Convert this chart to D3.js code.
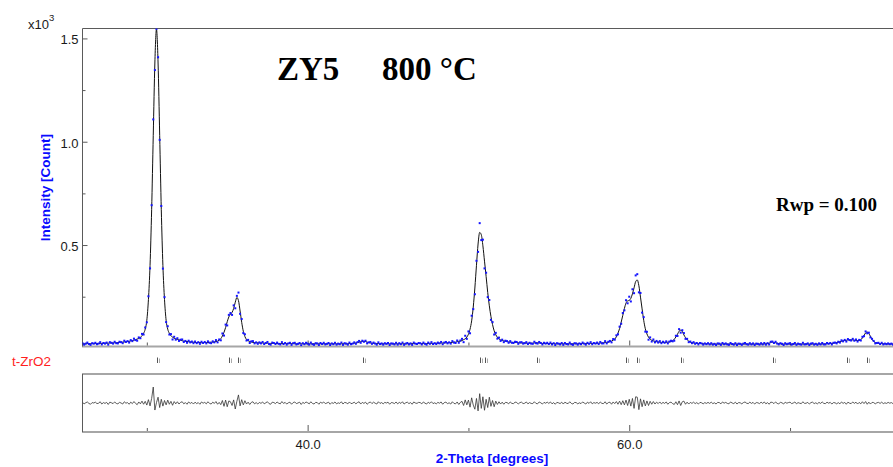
<!DOCTYPE html>
<html>
<head>
<meta charset="utf-8">
<script src="https://cdn.jsdelivr.net/npm/d3@7"></script>
<style>
  html, body { margin: 0; padding: 0; background: #fff; overflow: hidden; }
  svg { display: block; }
</style>
</head>
<body>
<svg id="chart" width="893" height="467"></svg>
<script>
// Scan: 2-Theta starts at 26.0 deg, 0.1 deg per step
const scanStart = 26.0;
const scanStep = 0.1;

// Calculated (Rietveld fit) profile in counts, one row per degree
const calcCounts = [
  22,22,22,23,23,23,23,23,23,23,
  24,24,24,24,25,25,25,26,26,26,
  27,27,28,29,30,30,31,32,33,34,
  36,38,40,42,45,48,53,61,73,93,
  136,236,401,671,1031,1381,1544,1381,1031,671,
  401,236,136,93,73,61,54,49,46,43,
  41,39,37,35,34,33,32,31,30,30,
  29,28,28,28,27,27,28,28,28,29,
  30,30,31,33,35,40,47,60,78,101,
  129,152,165,174,193,223,246,231,181,126,
  83,57,43,37,33,31,29,28,27,27,
  26,26,26,25,25,25,24,24,24,24,
  24,23,23,23,23,23,23,23,23,23,
  23,23,22,22,22,22,22,22,22,22,
  22,22,22,22,22,22,22,22,22,22,
  22,22,22,22,22,22,22,22,22,22,
  22,22,22,22,22,22,23,23,24,25,
  26,28,30,32,34,34,33,30,28,26,
  25,24,24,23,23,23,22,22,22,22,
  22,22,22,22,22,22,22,22,22,22,
  22,22,22,22,22,23,23,23,23,23,
  23,23,23,23,23,24,24,24,24,24,
  25,25,25,26,26,26,27,27,28,28,
  29,30,30,33,34,35,38,42,46,55,
  68,93,133,200,292,402,505,561,550,496,
  422,348,270,206,154,115,85,66,54,46,
  41,38,36,34,33,31,30,29,29,28,
  28,27,27,26,26,26,25,25,25,25,
  25,26,27,27,26,25,24,24,24,23,
  23,23,23,23,22,22,22,22,22,22,
  22,22,22,22,22,22,22,22,22,23,
  23,23,23,23,23,24,24,24,24,24,
  25,25,26,26,27,29,29,30,32,35,
  40,45,56,74,96,127,160,193,219,230,
  232,242,264,293,323,331,303,248,191,136,
  95,70,54,45,39,36,34,32,31,30,
  29,29,29,29,30,31,33,37,44,55,
  68,83,88,82,65,52,42,35,30,27,
  26,25,24,24,23,23,22,22,22,22,
  21,21,21,21,21,21,21,21,21,21,
  21,21,21,21,21,21,21,21,21,21,
  21,21,21,21,21,21,21,21,21,21,
  21,21,21,21,21,22,23,25,28,30,
  29,27,25,23,22,21,21,21,21,21,
  21,21,21,21,21,21,21,21,21,21,
  21,21,21,21,21,21,21,21,21,21,
  21,21,22,22,23,23,24,25,27,28,
  30,32,34,36,38,39,41,41,41,41,
  39,39,38,38,42,50,62,75,79,72,
  58,43,34,28,25,24,23,23,22,22,
  22,21,21,21,21,21
];

// Observed minus calculated, in counts, same steps
const diffCounts = [
  3,-4,1,5,-2,-6,2,0,4,-3,
  -1,6,-5,2,-2,3,-7,4,1,-3,
  5,-2,-4,3,0,-5,6,-1,2,-6,
  4,-3,7,-2,-8,5,-4,9,-6,8,
  -10,16,-14,22,77,-34,2,28,-22,18,
  -15,12,-9,14,-6,8,-11,7,-4,6,
  -5,3,6,-4,2,-6,5,-2,3,-5,
  4,-3,2,-6,5,-1,3,-4,6,-2,
  -5,4,-2,7,-6,3,-8,12,-16,14,
  -18,10,6,-12,15,-29,8,39,-14,16,
  -9,11,-5,4,-7,3,6,-4,2,-5,
  3,-2,5,-4,1,6,-3,-6,4,2,
  -3,5,-1,-4,7,-2,3,-5,1,4,
  -6,2,5,-3,0,4,-7,3,-2,5,
  1,-4,6,-2,-5,3,2,-6,4,-1,
  5,-3,0,4,-6,2,-2,5,-4,1,
  -2,6,-5,3,1,-4,5,-3,-1,4,
  -4,2,6,-5,3,-2,4,-6,1,5,
  -3,4,-1,-5,6,-2,2,-4,3,0,
  4,-6,2,1,-3,5,-4,3,-2,6,
  -5,1,4,-3,2,-6,5,0,-2,3,
  2,-4,5,-1,-5,4,-2,6,-3,1,
  -4,3,-1,5,-6,2,4,-3,1,-5,
  6,-2,-4,5,-7,3,8,-12,15,-9,
  14,-20,25,-10,-30,22,-38,45,-26,30,
  -35,18,-22,28,-16,12,-18,9,-7,6,
  -5,4,-6,3,2,-4,5,-2,-3,4,
  3,-5,2,4,-3,-1,5,-4,2,-2,
  -3,6,-2,-4,5,1,-5,3,-1,4,
  -2,5,-4,2,-6,3,1,-3,4,-5,
  4,-1,-3,6,-2,-5,3,2,-4,1,
  -3,5,0,-5,4,-2,6,-4,2,-1,
  3,-4,5,-2,-3,6,-5,2,4,-6,
  5,-3,7,-6,9,-8,11,-9,14,-12,
  18,-15,22,-26,30,28,-32,20,-18,15,
  -14,10,-12,8,-6,7,-5,4,-3,5,
  -4,3,-2,5,-6,2,4,-3,-7,6,
  -8,10,-12,6,9,-6,4,-5,3,-2,
  4,-3,2,-5,3,1,-4,2,-2,3,
  -2,4,-3,1,-5,3,2,-4,5,-1,
  3,-2,-4,5,0,-3,4,-5,2,1,
  -4,2,5,-1,-3,4,-2,3,-5,2,
  1,-3,4,-2,5,-4,2,-6,4,3,
  -3,5,-2,-4,3,1,-5,4,-1,2,
  4,-3,0,5,-4,2,-1,-3,6,-2,
  -1,3,-5,2,4,-3,1,-4,3,-2,
  5,-2,-3,4,-1,3,-5,2,1,-4,
  2,-4,5,-2,3,-6,4,-1,-3,5,
  -2,4,-5,3,-4,6,-3,7,-6,4,
  -5,3,2,-4,1,3,-2,4,-3,1,
  -2,3,-1,2,-3,1
];

// t-ZrO2 reflection positions (2-Theta, deg)
const reflections = [30.65, 35.14, 35.64, 43.46, 50.69, 51.06, 54.28, 59.83, 60.50, 63.19, 68.91, 73.56, 74.76];

// Axis ticks
const yTicks = [500, 1000, 1500];
const yMinorTicks = [250, 750, 1250];
const xTicks = [40, 60];
const xMinorTicks = [30, 50, 70];

const phaseName = "t-ZrO2";
const sampleName = "ZY5";
const sampleTemp = "800 °C";
const rwpText = "Rwp = 0.100";

const SANS = "'Liberation Sans', Arial, sans-serif";
const SERIF = "'Liberation Serif', 'Times New Roman', serif";
const AXIS_GREY = "#5a5a5a";
const FRAME_GREY = "#a6a6a6";

const svg = d3.select("#chart");
svg.append("rect").attr("width", 893).attr("height", 467).attr("fill", "#fff");

// Scales
const x = d3.scaleLinear().domain([26, 77]).range([82.5, 902.6]);
const y = d3.scaleLinear().domain([9, 1547]).range([346.5, 28.7]);
const yd = d3.scaleLinear().domain([-140, 140]).range([432, 374]);

const angle = i => scanStart + i * scanStep;
const obsCounts = calcCounts.map((c, i) => c + diffCounts[i]);

const defs = svg.append("defs");
defs.append("clipPath").attr("id", "mainClip")
  .append("rect").attr("x", 82.5).attr("y", 28.5).attr("width", 830).attr("height", 318);
defs.append("clipPath").attr("id", "diffClip")
  .append("rect").attr("x", 82.5).attr("y", 374).attr("width", 830).attr("height", 58);

// ---------- Main panel ----------
const main = svg.append("g");

// frame
main.append("line").attr("x1", 82.5).attr("x2", 910).attr("y1", 28.5).attr("y2", 28.5)
  .attr("stroke", AXIS_GREY).attr("stroke-width", 1);
main.append("line").attr("x1", 82).attr("x2", 910).attr("y1", 346.5).attr("y2", 346.5)
  .attr("stroke", FRAME_GREY).attr("stroke-width", 2);
main.append("line").attr("x1", 82.5).attr("x2", 82.5).attr("y1", 28.5).attr("y2", 346.5)
  .attr("stroke", AXIS_GREY).attr("stroke-width", 1);

// y axis (ticks point inside)
const yAxis = main.append("g").attr("transform", "translate(82.5,0)")
  .call(d3.axisLeft(y).tickValues(yTicks).tickSizeInner(-5).tickSizeOuter(0).tickPadding(4)
    .tickFormat(d => (d / 1000).toFixed(1)));
const yMinor = main.append("g").attr("transform", "translate(82.5,0)")
  .call(d3.axisLeft(y).tickValues(yMinorTicks).tickSizeInner(-3).tickSizeOuter(0).tickFormat(""));
[yAxis, yMinor].forEach(g => {
  g.select(".domain").remove();
  g.selectAll(".tick line").attr("stroke", AXIS_GREY);
});
yAxis.selectAll(".tick text")
  .attr("font-family", SANS).attr("font-size", 13).attr("fill", "#1a1a1a").attr("dy", "0.42em");

// x ticks on main panel bottom
const xMainMajor = main.append("g").attr("transform", "translate(0,345.5)")
  .call(d3.axisBottom(x).tickValues(xTicks).tickSizeInner(-5).tickSizeOuter(0).tickFormat(""));
const xMainMinor = main.append("g").attr("transform", "translate(0,345.5)")
  .call(d3.axisBottom(x).tickValues(xMinorTicks).tickSizeInner(-3).tickSizeOuter(0).tickFormat(""));
[xMainMajor, xMainMinor].forEach(g => {
  g.select(".domain").remove();
  g.selectAll(".tick line").attr("stroke", AXIS_GREY);
});

// calculated profile
const plot = main.append("g").attr("clip-path", "url(#mainClip)");
plot.append("path")
  .datum(calcCounts)
  .attr("fill", "none")
  .attr("stroke", "#111")
  .attr("stroke-width", 1)
  .attr("d", d3.line().x((d, i) => x(angle(i))).y(d => y(d)).curve(d3.curveMonotoneX));

// observed points
plot.selectAll("rect.obs")
  .data(obsCounts)
  .join("rect")
  .attr("class", "obs")
  .attr("x", (d, i) => x(angle(i)) - 1)
  .attr("y", d => y(d) - 1)
  .attr("width", 2)
  .attr("height", 2)
  .attr("fill", "#1414ff");

// x10^3 multiplier
const mult = svg.append("text").attr("x", 28).attr("y", 28.5)
  .attr("font-family", SANS).attr("font-size", 13).attr("fill", "#1a1a1a");
mult.append("tspan").text("x10");
mult.append("tspan").attr("font-size", 9.5).attr("dy", -7.5).text("3");

// y axis title
svg.append("text")
  .attr("transform", "translate(50,187.6) rotate(-90)")
  .attr("text-anchor", "middle")
  .attr("font-family", SANS).attr("font-size", 13.5).attr("font-weight", "bold")
  .attr("fill", "#0a0aff")
  .text("Intensity [Count]");

// sample label
svg.append("text").attr("x", 277).attr("y", 79.5)
  .attr("font-family", SERIF).attr("font-size", 33).attr("font-weight", "bold").attr("fill", "#000")
  .text(sampleName);
svg.append("text").attr("x", 382).attr("y", 79.5)
  .attr("font-family", SERIF).attr("font-size", 33).attr("font-weight", "bold").attr("fill", "#000")
  .text(sampleTemp);

// fit quality
svg.append("text").attr("x", 776).attr("y", 210.7)
  .attr("font-family", SERIF).attr("font-size", 19).attr("font-weight", "bold").attr("fill", "#000")
  .text(rwpText);

// ---------- Reflection markers ----------
svg.append("text").attr("x", 12).attr("y", 366)
  .attr("font-family", SANS).attr("font-size", 13.5).attr("fill", "#ff1e1e")
  .text(phaseName);

const refl = svg.append("g");
refl.selectAll("line.ka1").data(reflections).join("line")
  .attr("class", "ka1")
  .attr("x1", d => Math.round(x(d)) + 0.5).attr("x2", d => Math.round(x(d)) + 0.5)
  .attr("y1", 357.5).attr("y2", 363)
  .attr("stroke", "#555").attr("stroke-width", 1);
refl.selectAll("line.ka2").data(reflections).join("line")
  .attr("class", "ka2")
  .attr("x1", d => Math.round(x(d)) + 2.5).attr("x2", d => Math.round(x(d)) + 2.5)
  .attr("y1", 358.5).attr("y2", 363)
  .attr("stroke", "#aaa").attr("stroke-width", 1);

// ---------- Difference panel ----------
const diffG = svg.append("g");
diffG.append("line").attr("x1", 82).attr("x2", 910).attr("y1", 374).attr("y2", 374)
  .attr("stroke", FRAME_GREY).attr("stroke-width", 2);
diffG.append("line").attr("x1", 82).attr("x2", 910).attr("y1", 432).attr("y2", 432)
  .attr("stroke", FRAME_GREY).attr("stroke-width", 2);
diffG.append("line").attr("x1", 82.5).attr("x2", 82.5).attr("y1", 374).attr("y2", 432)
  .attr("stroke", AXIS_GREY).attr("stroke-width", 1);

diffG.append("g").attr("clip-path", "url(#diffClip)")
  .append("path")
  .datum(diffCounts)
  .attr("fill", "none")
  .attr("stroke", "#333")
  .attr("stroke-width", 0.8)
  .attr("d", d3.line().x((d, i) => x(angle(i))).y(d => yd(d)));

const xAxis = diffG.append("g").attr("transform", "translate(0,431)")
  .call(d3.axisBottom(x).tickValues(xTicks).tickSizeInner(-6).tickSizeOuter(0).tickPadding(9)
    .tickFormat(d => d.toFixed(1)));
const xMinor = diffG.append("g").attr("transform", "translate(0,431)")
  .call(d3.axisBottom(x).tickValues(xMinorTicks).tickSizeInner(-3).tickSizeOuter(0).tickFormat(""));
[xAxis, xMinor].forEach(g => {
  g.select(".domain").remove();
  g.selectAll(".tick line").attr("stroke", AXIS_GREY);
});
xAxis.selectAll(".tick text")
  .attr("font-family", SANS).attr("font-size", 13).attr("fill", "#1a1a1a");

// x axis title
svg.append("text").attr("x", 492).attr("y", 463)
  .attr("text-anchor", "middle")
  .attr("font-family", SANS).attr("font-size", 13.5).attr("font-weight", "bold")
  .attr("fill", "#0a0aff")
  .text("2-Theta [degrees]");
</script>
</body>
</html>
